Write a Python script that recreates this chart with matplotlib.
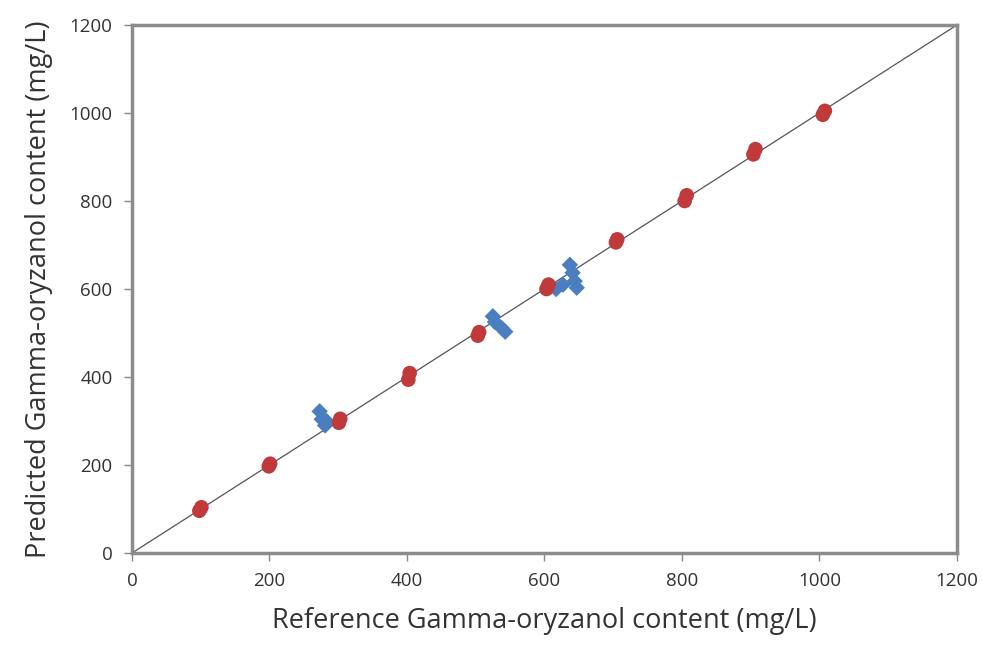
import matplotlib
matplotlib.use("Agg")
import matplotlib.pyplot as plt

# reference (mg/L) vs predicted (mg/L)
red_ref = [98, 101, 199, 201, 301, 303, 402, 404, 503, 505, 603, 606, 704, 706, 804, 807, 904, 907, 1005, 1008]
red_pred = [96, 104, 197, 203, 296, 305, 394, 409, 494, 502, 600, 610, 706, 713, 800, 813, 906, 918, 996, 1005]

blue_ref = [273, 276, 281, 283, 525, 528, 538, 543, 637, 641, 644, 627, 617, 647]
blue_pred = [322, 304, 290, 300, 538, 525, 511, 503, 655, 637, 618, 610, 600, 603]

ticks = [0, 200, 400, 600, 800, 1000, 1200]

plt.rcParams['font.family'] = ['Open Sans', 'DejaVu Sans']

fig = plt.figure(figsize=(9.82, 6.5), dpi=100)
ax = fig.add_axes([0.1344, 0.1492, 0.840, 0.8123])

ax.plot([0, 1200], [0, 1200], color='#555555', linewidth=0.9, zorder=1)
ax.scatter(blue_ref, blue_pred, marker='D', s=70, color='#4a7ebf', edgecolors='none', zorder=2)
ax.scatter(red_ref, red_pred, marker='o', s=110, color='#c0393b', edgecolors='none', zorder=3)

ax.set_xlim(0, 1200)
ax.set_ylim(0, 1200)
ax.set_xticks(ticks)
ax.set_yticks(ticks)
ax.tick_params(direction='out', length=6, width=1, color='#888888', labelsize=13.5, labelcolor='#333333', pad=8)
for s in ax.spines.values():
    s.set_color('#8c8c8c')
    s.set_linewidth(2.5)

ax.set_xlabel("Reference Gamma-oryzanol content (mg/L)", fontsize=19.5, color='#333333', labelpad=12)
ax.set_ylabel("Predicted Gamma-oryzanol content (mg/L)", fontsize=19.5, color='#333333', labelpad=12)

fig.savefig("out.png", dpi=100)
